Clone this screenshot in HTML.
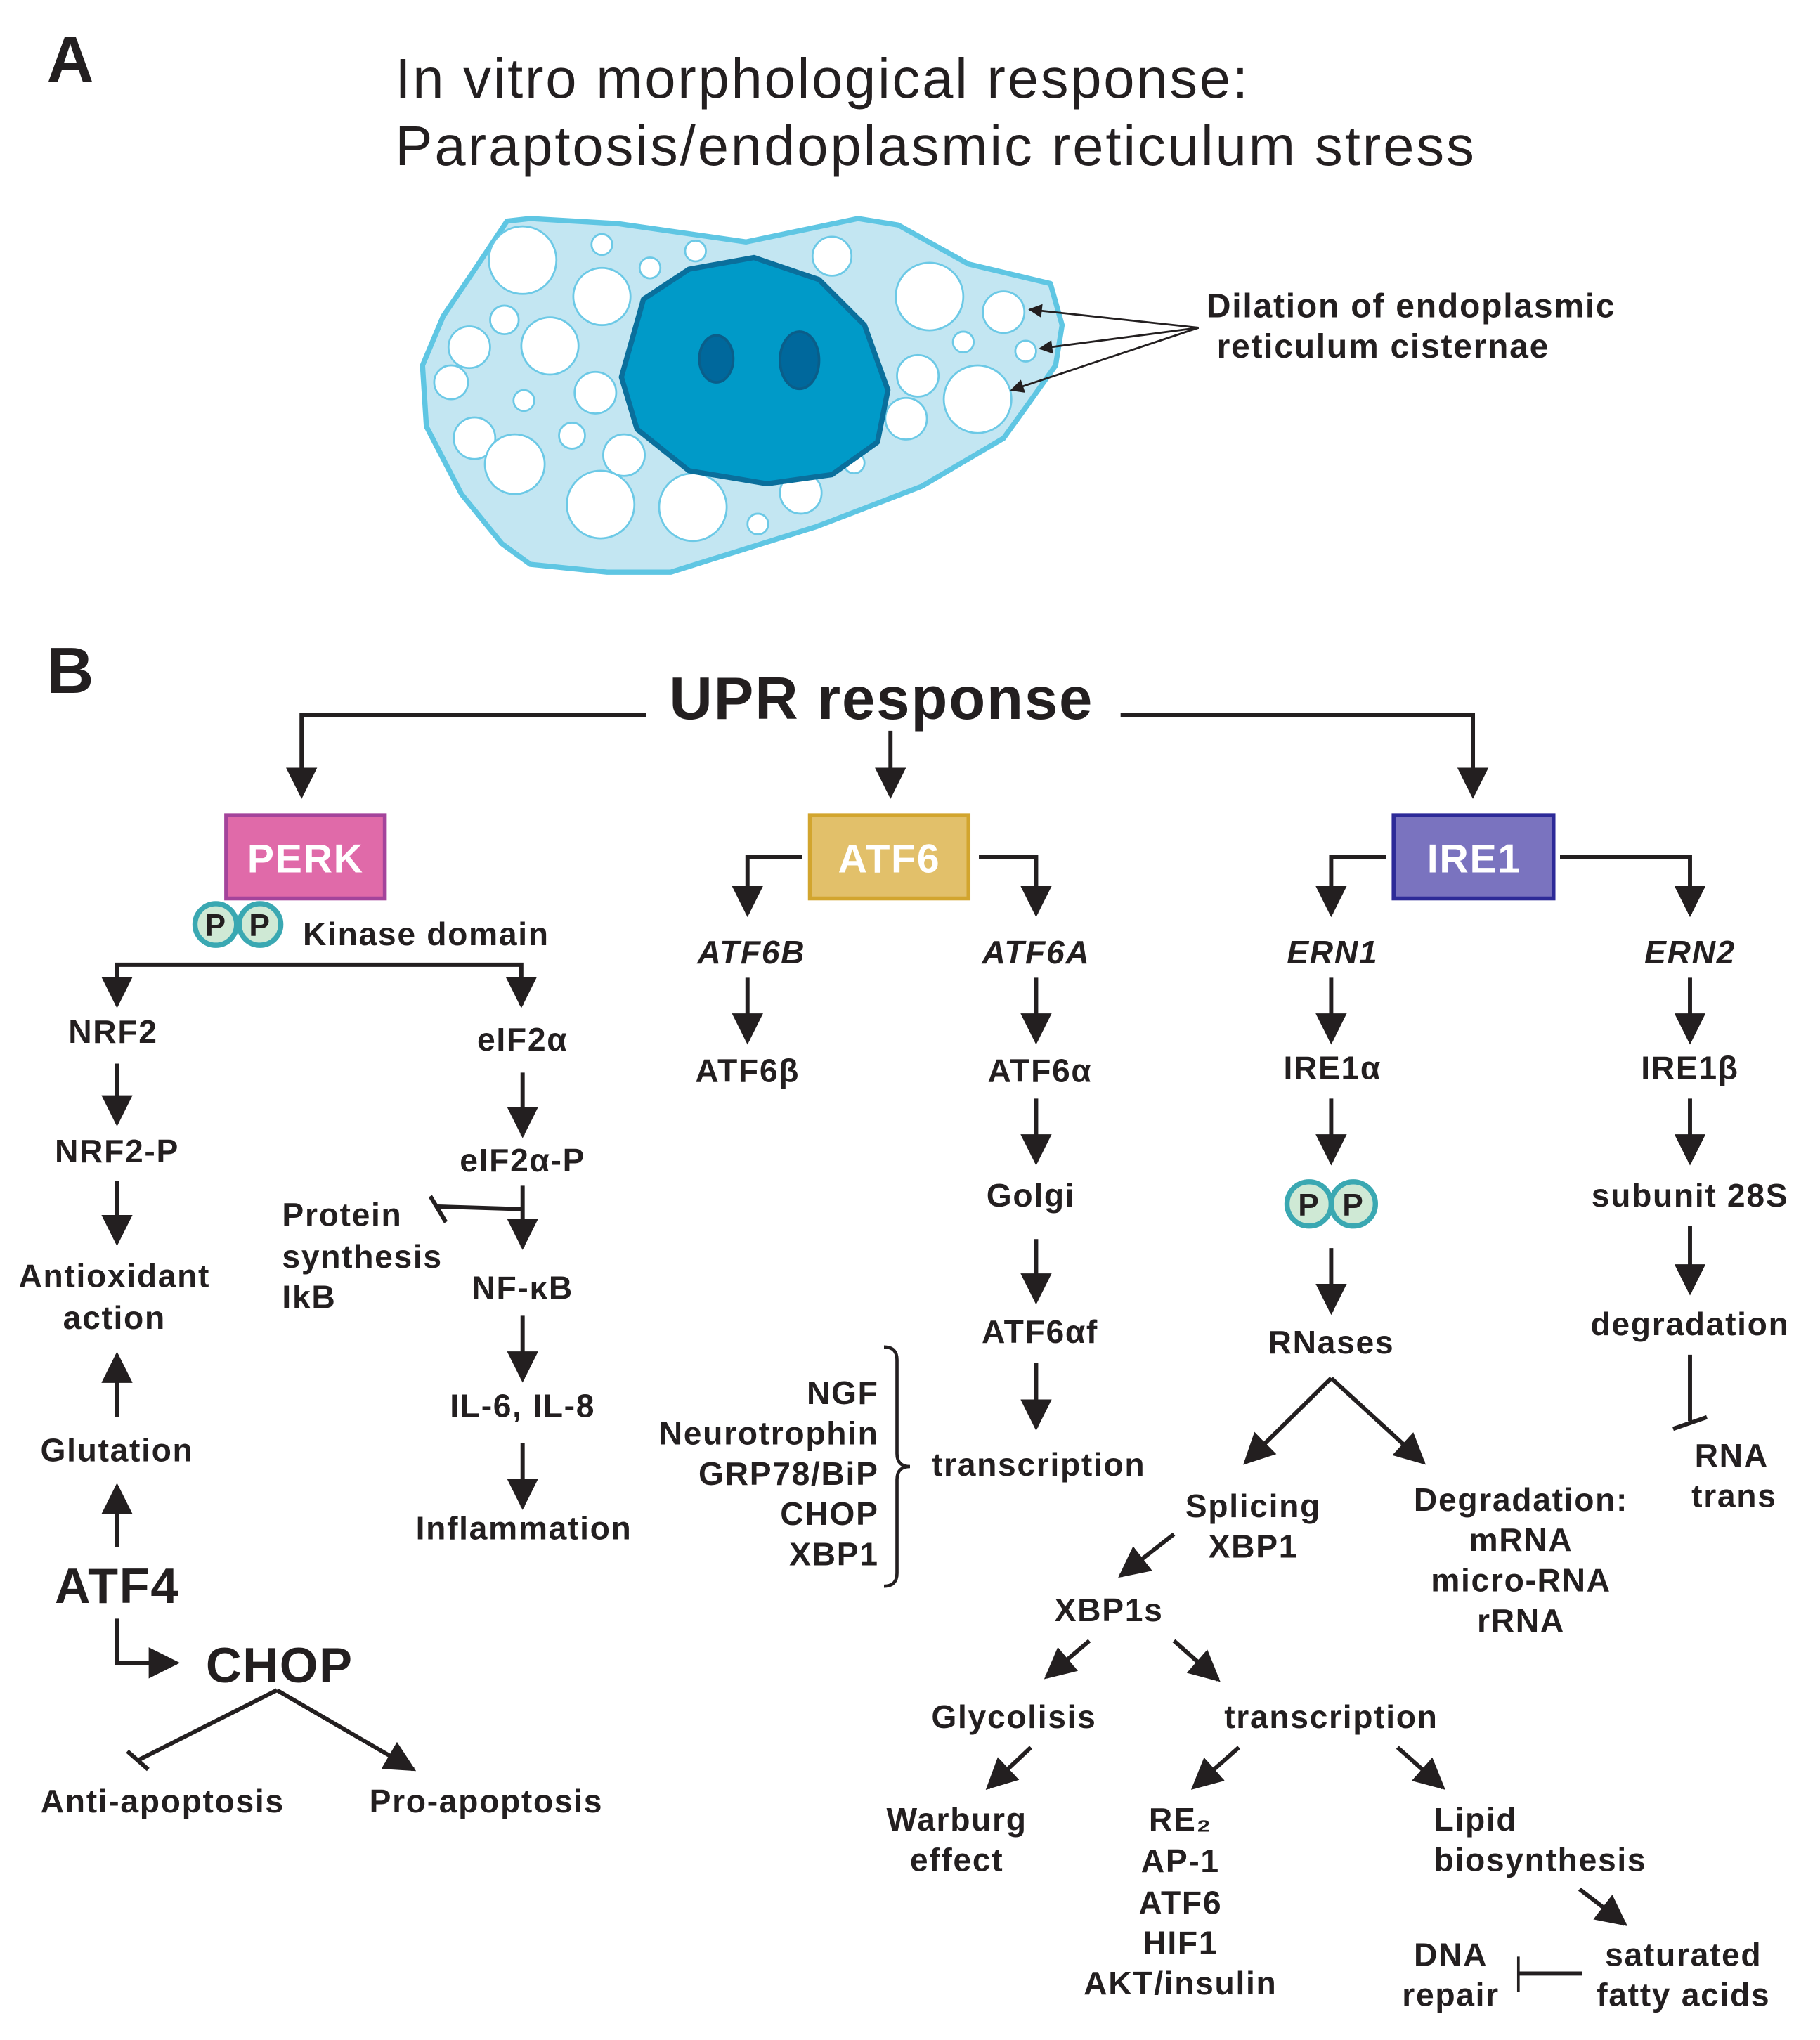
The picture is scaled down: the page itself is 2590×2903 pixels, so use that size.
<!DOCTYPE html>
<html><head><meta charset="utf-8"><style>
html,body{margin:0;padding:0;background:#fff}
svg{display:block}
text{font-family:"Liberation Sans",Arial,sans-serif;fill:#231f20}
.b{font-weight:bold;font-size:25px;letter-spacing:0.9px;text-anchor:middle}
.l{text-anchor:start}
.r{text-anchor:end}
.i{font-style:italic}
</style></head><body>
<svg width="2590" height="2903" viewBox="0 0 1400 1569" xmlns="http://www.w3.org/2000/svg">
<defs>
<marker id="ah" viewBox="0 0 10 10" refX="9" refY="5" markerWidth="7.5" markerHeight="7.5" orient="auto" markerUnits="strokeWidth">
<path d="M0,0 L10,5 L0,10 z" fill="#231f20"/></marker>
<marker id="as" viewBox="0 0 10 10" refX="9" refY="5" markerWidth="9" markerHeight="7" orient="auto" markerUnits="strokeWidth">
<path d="M0,0 L10,5 L0,10 z" fill="#231f20"/></marker>
</defs>

<text x="36" y="63" style="font-weight:bold;font-size:50px">A</text>
<text x="304" y="75" style="font-size:43px" textLength="656">In vitro morphological response:</text>
<text x="304" y="127" style="font-size:43px" textLength="830">Paraptosis/endoplasmic reticulum stress</text>

<!-- cell -->
<polygon points="390,170 408,168 476,172 574,186 660,168 691,173 745,203 808,218 817,250 812,281 790,312 772,337 709,374 628,405 516,440 467,440 408,434 386,418 355,380 328,328 325,281 341,243 368,203" fill="#c3e6f2" stroke="#5fc6e3" stroke-width="4" stroke-linejoin="round"/>
<g fill="#fff" stroke="#6cc9e6" stroke-width="1.5">
<circle cx="402" cy="200" r="26"/><circle cx="463" cy="188" r="8"/><circle cx="500" cy="206" r="8"/><circle cx="535" cy="193" r="8"/><circle cx="640" cy="197" r="15"/>
<circle cx="463" cy="228" r="22"/><circle cx="388" cy="246" r="11"/><circle cx="423" cy="266" r="22"/><circle cx="361" cy="267" r="16"/><circle cx="347" cy="294" r="13"/>
<circle cx="403" cy="308" r="8"/><circle cx="458" cy="302" r="16"/><circle cx="365" cy="337" r="16"/><circle cx="396" cy="357" r="23"/><circle cx="440" cy="335" r="10"/>
<circle cx="480" cy="350" r="16"/><circle cx="462" cy="388" r="26"/><circle cx="533" cy="390" r="26"/><circle cx="583" cy="403" r="8"/><circle cx="616" cy="379" r="16"/>
<circle cx="657" cy="356" r="8"/><circle cx="697" cy="322" r="16"/><circle cx="706" cy="289" r="16"/><circle cx="715" cy="228" r="26"/><circle cx="741" cy="263" r="8"/>
<circle cx="772" cy="240" r="16"/><circle cx="789" cy="270" r="8"/><circle cx="752" cy="307" r="26"/>
</g>
<polygon points="495,230 530,207 580,198 630,215 665,250 683,300 675,340 640,365 590,372 530,362 490,330 478,290" fill="#009ac8" stroke="#0a6f9c" stroke-width="4" stroke-linejoin="round"/>
<ellipse cx="551" cy="276" rx="13" ry="18" fill="#00689c" stroke="#0a5e8a" stroke-width="2"/>
<ellipse cx="615" cy="277" rx="15" ry="22" fill="#00689c" stroke="#0a5e8a" stroke-width="2"/>
<g stroke="#231f20" stroke-width="1.5" fill="none">
<line x1="922" y1="252" x2="792" y2="238" marker-end="url(#as)"/>
<line x1="922" y1="252" x2="800" y2="268" marker-end="url(#as)"/>
<line x1="922" y1="252" x2="778" y2="300" marker-end="url(#as)"/>
</g>
<text x="928" y="244" style="font-weight:bold;font-size:26px" textLength="314">Dilation of endoplasmic</text>
<text x="936" y="275" style="font-weight:bold;font-size:26px" textLength="255">reticulum cisternae</text>

<text x="36" y="533" style="font-weight:bold;font-size:50px">B</text>
<text x="678" y="553" class="b" style="font-size:46px;letter-spacing:1px">UPR response</text>

<g stroke="#231f20" stroke-width="3.2" fill="none">
<polyline points="497,550 232,550 232,612" marker-end="url(#ah)"/>
<polyline points="862,550 1133,550 1133,612" marker-end="url(#ah)"/>
<line x1="685" y1="562" x2="685" y2="612" marker-end="url(#ah)"/>
<polyline points="617,659 575,659 575,703" marker-end="url(#ah)"/>
<polyline points="753,659 797,659 797,703" marker-end="url(#ah)"/>
<polyline points="1066,659 1024,659 1024,703" marker-end="url(#ah)"/>
<polyline points="1200,659 1300,659 1300,703" marker-end="url(#ah)"/>
<polyline points="90,773 90,742 401,742 401,773" marker-end="url(#ah)"/>
<line x1="90" y1="742" x2="90" y2="773" marker-end="url(#ah)"/>
<line x1="90" y1="818" x2="90" y2="864" marker-end="url(#ah)"/>
<line x1="90" y1="908" x2="90" y2="956" marker-end="url(#ah)"/>
<line x1="90" y1="1090" x2="90" y2="1042" marker-end="url(#ah)"/>
<line x1="90" y1="1190" x2="90" y2="1143" marker-end="url(#ah)"/>
<polyline points="90,1245 90,1279 136,1279" marker-end="url(#ah)"/>
<line x1="213" y1="1300" x2="318" y2="1361" marker-end="url(#ah)"/>
<line x1="213" y1="1300" x2="106" y2="1354"/>
<line x1="98" y1="1347" x2="114" y2="1361"/>
<line x1="402" y1="825" x2="402" y2="873" marker-end="url(#ah)"/>
<line x1="402" y1="912" x2="402" y2="959" marker-end="url(#ah)"/>
<line x1="402" y1="930" x2="337" y2="928"/>
<line x1="331" y1="920" x2="343" y2="940"/>
<line x1="402" y1="1012" x2="402" y2="1061" marker-end="url(#ah)"/>
<line x1="402" y1="1110" x2="402" y2="1159" marker-end="url(#ah)"/>
<line x1="575" y1="752" x2="575" y2="801" marker-end="url(#ah)"/>
<line x1="797" y1="752" x2="797" y2="801" marker-end="url(#ah)"/>
<line x1="797" y1="845" x2="797" y2="894" marker-end="url(#ah)"/>
<line x1="797" y1="953" x2="797" y2="1001" marker-end="url(#ah)"/>
<line x1="797" y1="1048" x2="797" y2="1098" marker-end="url(#ah)"/>
<path d="M680,1036 Q690,1036 690,1046 L690,1118 Q690,1128 700,1128 Q690,1128 690,1138 L690,1210 Q690,1220 680,1220" stroke-width="2.5"/>
<line x1="1024" y1="752" x2="1024" y2="801" marker-end="url(#ah)"/>
<line x1="1024" y1="845" x2="1024" y2="894" marker-end="url(#ah)"/>
<line x1="1024" y1="960" x2="1024" y2="1009" marker-end="url(#ah)"/>
<line x1="1024" y1="1060" x2="958" y2="1125" marker-end="url(#ah)"/>
<line x1="1024" y1="1060" x2="1095" y2="1125" marker-end="url(#ah)"/>
<line x1="903" y1="1180" x2="862" y2="1212" marker-end="url(#ah)"/>
<line x1="838" y1="1262" x2="805" y2="1290" marker-end="url(#ah)"/>
<line x1="903" y1="1262" x2="937" y2="1292" marker-end="url(#ah)"/>
<line x1="793" y1="1344" x2="760" y2="1375" marker-end="url(#ah)"/>
<line x1="953" y1="1344" x2="918" y2="1375" marker-end="url(#ah)"/>
<line x1="1075" y1="1344" x2="1110" y2="1375" marker-end="url(#ah)"/>
<line x1="1215" y1="1453" x2="1250" y2="1480" marker-end="url(#ah)"/>
<line x1="1217" y1="1518" x2="1168" y2="1518"/>
<line x1="1168" y1="1505" x2="1168" y2="1532" stroke-width="2"/>
<line x1="1300" y1="752" x2="1300" y2="801" marker-end="url(#ah)"/>
<line x1="1300" y1="845" x2="1300" y2="894" marker-end="url(#ah)"/>
<line x1="1300" y1="943" x2="1300" y2="994" marker-end="url(#ah)"/>
<line x1="1300" y1="1042" x2="1300" y2="1093"/>
<line x1="1287" y1="1099" x2="1313" y2="1090"/>
</g>

<rect x="174" y="627" width="122" height="64" fill="#e06aa9" stroke="#a4449b" stroke-width="3"/>
<text x="235" y="671" class="b" style="font-size:31px;fill:#fff">PERK</text>
<rect x="623" y="627" width="122" height="64" fill="#e2c06a" stroke="#d2a52e" stroke-width="3"/>
<text x="684" y="671" class="b" style="font-size:31px;fill:#fff">ATF6</text>
<rect x="1072" y="627" width="123" height="64" fill="#7a73bf" stroke="#2d2a98" stroke-width="3"/>
<text x="1134" y="671" class="b" style="font-size:31px;fill:#fff">IRE1</text>

<g fill="#cfe9d5" stroke="#3aa8b2" stroke-width="4">
<circle cx="166" cy="711" r="16"/><circle cx="200" cy="711" r="16"/>
<circle cx="1007" cy="926" r="17"/><circle cx="1041" cy="926" r="17"/>
</g>
<text x="166" y="720" class="b" style="font-size:24px">P</text>
<text x="200" y="720" class="b" style="font-size:24px">P</text>
<text x="1007" y="935" class="b" style="font-size:24px">P</text>
<text x="1041" y="935" class="b" style="font-size:24px">P</text>

<text x="233" y="727" class="b l">Kinase domain</text>
<text x="87" y="802" class="b">NRF2</text>
<text x="402" y="808" class="b">eIF2α</text>
<text x="90" y="894" class="b">NRF2-P</text>
<text x="88" y="990" class="b">Antioxidant</text>
<text x="88" y="1022" class="b">action</text>
<text x="90" y="1124" class="b">Glutation</text>
<text x="90" y="1233" class="b" style="font-size:38px">ATF4</text>
<text x="215" y="1294" class="b" style="font-size:38px">CHOP</text>
<text x="125" y="1394" class="b">Anti-apoptosis</text>
<text x="374" y="1394" class="b">Pro-apoptosis</text>
<text x="402" y="901" class="b">eIF2α-P</text>
<text x="217" y="943" class="b l">Protein</text>
<text x="217" y="975" class="b l">synthesis</text>
<text x="217" y="1006" class="b l">IkB</text>
<text x="402" y="999" class="b">NF-κB</text>
<text x="402" y="1090" class="b">IL-6, IL-8</text>
<text x="403" y="1184" class="b">Inflammation</text>

<text x="578" y="741" class="b i">ATF6B</text>
<text x="575" y="832" class="b">ATF6β</text>
<text x="797" y="741" class="b i">ATF6A</text>
<text x="800" y="832" class="b">ATF6α</text>
<text x="793" y="928" class="b">Golgi</text>
<text x="800" y="1033" class="b">ATF6αf</text>
<text x="799" y="1135" class="b">transcription</text>
<text x="676" y="1080" class="b r">NGF</text>
<text x="676" y="1111" class="b r">Neurotrophin</text>
<text x="676" y="1142" class="b r">GRP78/BiP</text>
<text x="676" y="1173" class="b r">CHOP</text>
<text x="676" y="1204" class="b r">XBP1</text>

<text x="1025" y="741" class="b i">ERN1</text>
<text x="1025" y="830" class="b">IRE1α</text>
<text x="1024" y="1041" class="b">RNases</text>
<text x="964" y="1167" class="b">Splicing</text>
<text x="964" y="1198" class="b">XBP1</text>
<text x="1170" y="1162" class="b">Degradation:</text>
<text x="1170" y="1193" class="b">mRNA</text>
<text x="1170" y="1224" class="b">micro-RNA</text>
<text x="1170" y="1255" class="b">rRNA</text>
<text x="853" y="1247" class="b">XBP1s</text>
<text x="780" y="1329" class="b">Glycolisis</text>
<text x="1024" y="1329" class="b">transcription</text>
<text x="736" y="1408" class="b">Warburg</text>
<text x="736" y="1439" class="b">effect</text>
<text x="908" y="1408" class="b">RE₂</text>
<text x="908" y="1440" class="b">AP-1</text>
<text x="908" y="1472" class="b">ATF6</text>
<text x="908" y="1503" class="b">HIF1</text>
<text x="908" y="1534" class="b">AKT/insulin</text>
<text x="1103" y="1408" class="b l">Lipid</text>
<text x="1103" y="1439" class="b l">biosynthesis</text>
<text x="1116" y="1512" class="b">DNA</text>
<text x="1116" y="1543" class="b">repair</text>
<text x="1295" y="1512" class="b">saturated</text>
<text x="1295" y="1543" class="b">fatty acids</text>
<text x="1300" y="741" class="b i">ERN2</text>
<text x="1300" y="830" class="b">IRE1β</text>
<text x="1300" y="928" class="b">subunit 28S</text>
<text x="1300" y="1027" class="b">degradation</text>
<text x="1332" y="1128" class="b">RNA</text>
<text x="1334" y="1159" class="b">trans</text>
</svg>
</body></html>
